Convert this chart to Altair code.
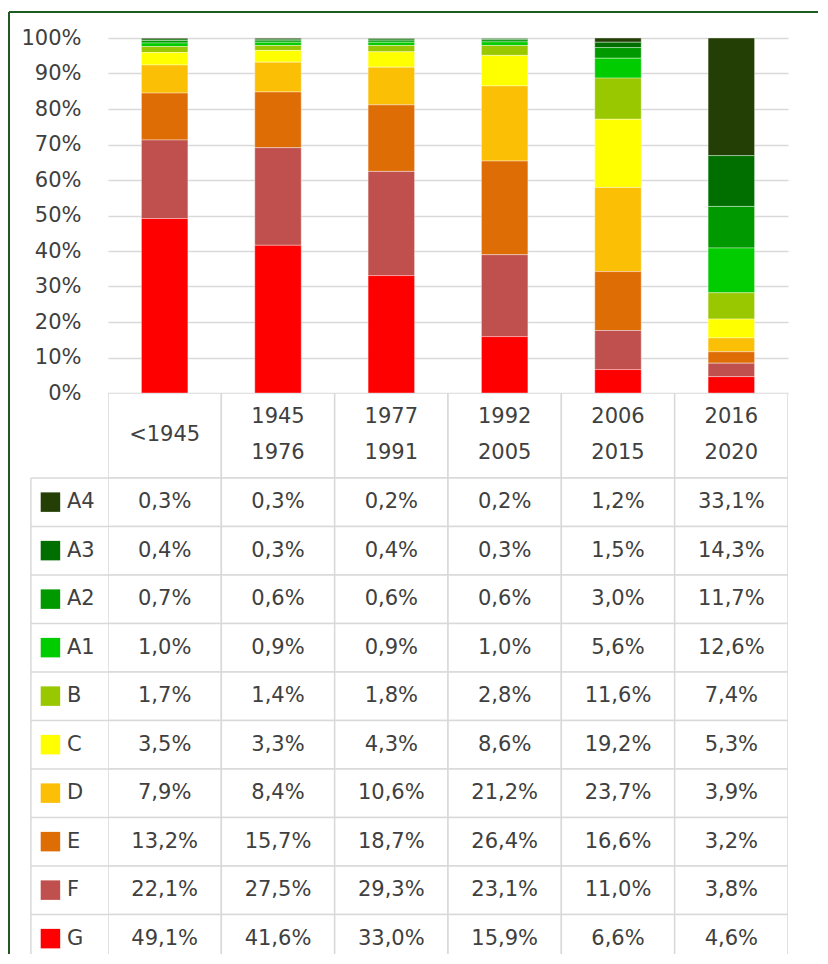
import altair as alt
import pandas as pd

# ---------------- data ----------------
periods = ["<1945", "1945-1976", "1977-1991", "1992-2005", "2006-2015", "2016-2020"]
header_lines = [["<1945"], ["1945", "1976"], ["1977", "1991"], ["1992", "2005"],
                ["2006", "2015"], ["2016", "2020"]]
classes = ["A4", "A3", "A2", "A1", "B", "C", "D", "E", "F", "G"]
colors = ["#243F06", "#006F00", "#009900", "#00CC00", "#99C800",
          "#FFFF00", "#FBBF05", "#DF6D05", "#C0504D", "#FF0000"]

A4 = [0.3, 0.3, 0.2, 0.2, 1.2, 33.1]
A3 = [0.4, 0.3, 0.4, 0.3, 1.5, 14.3]
A2 = [0.7, 0.6, 0.6, 0.6, 3.0, 11.7]
A1 = [1.0, 0.9, 0.9, 1.0, 5.6, 12.6]
B = [1.7, 1.4, 1.8, 2.8, 11.6, 7.4]
C = [3.5, 3.3, 4.3, 8.6, 19.2, 5.3]
D = [7.9, 8.4, 10.6, 21.2, 23.7, 3.9]
E = [13.2, 15.7, 18.7, 26.4, 16.6, 3.2]
F = [22.1, 27.5, 29.3, 23.1, 11.0, 3.8]
G = [49.1, 41.6, 33.0, 15.9, 6.6, 4.6]
series = [A4, A3, A2, A1, B, C, D, E, F, G]

# ---------------- layout constants ----------------
FONT = "DejaVu Sans"
TEXT = "#404040"
GRID = "#d9d9d9"
FRAME = "#1E5B1E"
BAR_W, BAR_H = 680, 355
HEADER_ROWS = 1.75          # header height, in row units
ROW_PX = 48.5
LINE_PX = 36                # header line spacing
LABEL_COL = 0.68            # label column width, in column units
STEP = BAR_W / len(periods)
TABLE_H = 561               # visible part of the table (cut at the bottom)
VISIBLE_ROWS = TABLE_H / ROW_PX
FRAME_RIGHT = 710           # end of the top frame line, px from plot left

# ---------------- bar chart ----------------
bar_rows = []
for k, (cls, vals) in enumerate(zip(classes, series)):
    for p, v in zip(periods, vals):
        bar_rows.append({"period": p, "cls": cls, "value": v,
                         "stack_order": len(classes) - 1 - k})
bar_df = pd.DataFrame(bar_rows)

color_scale = alt.Scale(domain=classes, range=colors)

bars = alt.Chart(bar_df).mark_bar(stroke="white", strokeWidth=0.7, strokeOpacity=0.55).encode(
    x=alt.X("period:N", sort=periods,
            scale=alt.Scale(paddingInner=0.59, paddingOuter=0.295), axis=None),
    y=alt.Y("value:Q", stack="normalize", scale=alt.Scale(domain=[0, 1]),
            axis=alt.Axis(values=[i / 10 for i in range(11)], format=".0%", title=None,
                          domain=False, ticks=False, labelFont=FONT, labelFontSize=21,
                          labelColor=TEXT, labelPadding=27, gridColor=GRID, gridWidth=1.5)),
    color=alt.Color("cls:N", scale=color_scale, legend=None),
    order=alt.Order("stack_order:Q", sort="ascending"),
)

one = pd.DataFrame({"a": [0]})
frame_top = alt.Chart(one).mark_rule(stroke=FRAME, strokeWidth=2).encode(
    x=alt.value(-99), x2=alt.value(FRAME_RIGHT), y=alt.value(-26))
frame_left = alt.Chart(one).mark_rule(stroke=FRAME, strokeWidth=2).encode(
    x=alt.value(-99), y=alt.value(-26), y2=alt.value(BAR_H + TABLE_H))

top = alt.layer(frame_top, frame_left, bars).properties(width=BAR_W, height=BAR_H)

# ---------------- table ----------------
cells = []
texts = []
for j, lines in enumerate(header_lines):
    cells.append({"x0": j, "x1": j + 1, "y0": 0, "y1": HEADER_ROWS})
    n = len(lines)
    for i, line in enumerate(lines):
        texts.append({"xc": j + 0.5,
                      "yc": HEADER_ROWS / 2 + (i - (n - 1) / 2) * LINE_PX / ROW_PX,
                      "t": line})
for k, (cls, vals) in enumerate(zip(classes, series)):
    y0 = HEADER_ROWS + k
    for j, v in enumerate(vals):
        cells.append({"x0": j, "x1": j + 1, "y0": y0, "y1": y0 + 1})
        texts.append({"xc": j + 0.5, "yc": y0 + 0.5,
                      "t": f"{v:.1f}".replace(".", ",") + "%"})
cells_df = pd.DataFrame(cells)
texts_df = pd.DataFrame(texts)
labels_df = pd.DataFrame({
    "cls": classes,
    "xl": [-LABEL_COL] * len(classes),
    "xr": [0.0] * len(classes),
    "xs": [-LABEL_COL + 19.5 / STEP] * len(classes),
    "ytop": [HEADER_ROWS + k for k in range(len(classes))],
    "yc": [HEADER_ROWS + k + 0.5 for k in range(len(classes))],
})
label_edge_df = pd.DataFrame({"x": [-LABEL_COL], "y0": [HEADER_ROWS], "y1": [VISIBLE_ROWS]})

tx = alt.Scale(domain=[0, len(periods)])
ty = alt.Scale(domain=[0, VISIBLE_ROWS], reverse=True)

cell_layer = alt.Chart(cells_df).mark_rect(
    fill="white", stroke=GRID, strokeWidth=1.5, clip=True
).encode(
    x=alt.X("x0:Q", scale=tx, axis=None), x2="x1:Q",
    y=alt.Y("y0:Q", scale=ty, axis=None), y2="y1:Q",
)
label_hlines = alt.Chart(labels_df).mark_rule(stroke=GRID, strokeWidth=1.5).encode(
    x=alt.X("xl:Q", scale=tx, axis=None), x2="xr:Q",
    y=alt.Y("ytop:Q", scale=ty, axis=None),
)
label_vline = alt.Chart(label_edge_df).mark_rule(stroke=GRID, strokeWidth=1.5).encode(
    x=alt.X("x:Q", scale=tx, axis=None),
    y=alt.Y("y0:Q", scale=ty, axis=None), y2="y1:Q",
)
text_layer = alt.Chart(texts_df).mark_text(
    font=FONT, fontSize=21, color=TEXT, baseline="middle"
).encode(
    x=alt.X("xc:Q", scale=tx, axis=None),
    y=alt.Y("yc:Q", scale=ty, axis=None),
    text="t:N",
)
swatch_layer = alt.Chart(labels_df).mark_square(size=380, opacity=1).encode(
    x=alt.X("xs:Q", scale=tx, axis=None),
    y=alt.Y("yc:Q", scale=ty, axis=None),
    color=alt.Color("cls:N", scale=color_scale, legend=None),
)
label_layer = alt.Chart(labels_df).mark_text(
    font=FONT, fontSize=21, color=TEXT, align="left", baseline="middle", dx=36
).encode(
    x=alt.X("xl:Q", scale=tx, axis=None),
    y=alt.Y("yc:Q", scale=ty, axis=None),
    text="cls:N",
)
table = alt.layer(cell_layer, label_hlines, label_vline, text_layer,
                  swatch_layer, label_layer).properties(width=BAR_W, height=TABLE_H)

chart = alt.vconcat(top, table, spacing=0, bounds="flush").properties(
    padding={"left": 0, "top": 3, "right": 0, "bottom": 0}
).configure_view(stroke=None).resolve_scale(color="shared")

chart.save("out.html", embed_options={"renderer": "svg", "actions": False})
